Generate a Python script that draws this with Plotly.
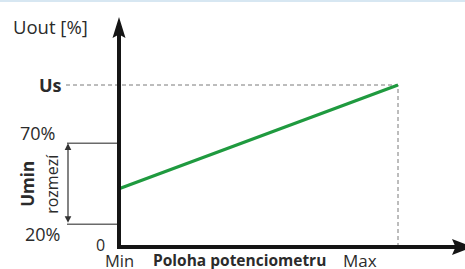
import plotly.graph_objects as go

# ---- data (schematic units: position 0..1, output level 0..100 where Us = 100)
pos_labels = ["Min", "Max"]
pos_values = [0, 1]
level_labels = ["0", "20%", "70%", "Us"]
level_values = [0, 14, 64, 100]
line_x = [0, 1]
line_y = [36, 100]
x_title = "Poloha potenciometru"
y_title = "Uout [%]"
band_title = "Umin"
band_sub = "rozmezí"

W, H = 465, 269
X0_PX, X1_PX = 119, 398      # pixel of Min / Max
Y0_PX, Y1_PX = 247, 85       # pixel of 0 / Us
sx = (X1_PX - X0_PX) / (pos_values[1] - pos_values[0])
sy = (Y0_PX - Y1_PX) / (level_values[3] - level_values[0])
xr = [pos_values[0] - X0_PX / sx, pos_values[0] + (W - X0_PX) / sx]
yr = [level_values[0] - (H - Y0_PX) / sy, level_values[0] + Y0_PX / sy]


def X(px):
    return xr[0] + px / sx


def Y(py):
    return yr[1] - py / sy


FONT = "Open Sans"
TXT = "#2b2b2b"
AX = "#151515"
GREEN = "#1f9a3f"
GRAY = "#7a7a7a"

xmin, xmax = pos_values
y0 = level_values[0]
us = level_values[3]

fig = go.Figure()

# dashed guides to Us / Max
fig.add_trace(go.Scatter(x=[X(66), xmax, xmax], y=[us, us, y0],
                         mode="lines", line=dict(color=GRAY, width=1, dash="4px,3px"),
                         hoverinfo="skip", showlegend=False))
# 20% / 70% guides
for lv in level_values[1:3]:
    fig.add_trace(go.Scatter(x=[X(67), xmin], y=[lv, lv], mode="lines",
                             line=dict(color="#6a6a6a", width=1.5),
                             hoverinfo="skip", showlegend=False))
# green characteristic
fig.add_trace(go.Scatter(x=line_x, y=line_y, mode="lines",
                         line=dict(color=GREEN, width=3.2),
                         hoverinfo="skip", showlegend=False))

shapes = []
# y axis shaft + head
ytip = Y(17)
shapes.append(dict(type="line", xref="x", yref="y", x0=xmin, x1=xmin,
                   y0=y0 - 2 / sy, y1=ytip - 16 / sy, line=dict(color=AX, width=4)))
shapes.append(dict(type="path", xref="x", yref="y", fillcolor=AX, line=dict(width=0),
                   path=(f"M{xmin},{ytip} L{xmin - 6.5 / sx},{ytip - 21 / sy} "
                         f"L{xmin},{ytip - 17.5 / sy} L{xmin + 6.5 / sx},{ytip - 21 / sy} Z")))
# x axis shaft + head
xtip = X(473)
shapes.append(dict(type="line", xref="x", yref="y", x0=xmin - 2 / sx, x1=xtip - 16 / sx,
                   y0=y0, y1=y0, line=dict(color=AX, width=4)))
shapes.append(dict(type="path", xref="x", yref="y", fillcolor=AX, line=dict(width=0),
                   path=(f"M{xtip},{y0} L{xtip - 21 / sx},{y0 + 8 / sy} "
                         f"L{xtip - 17.5 / sx},{y0} L{xtip - 21 / sx},{y0 - 8 / sy} Z")))
# top border
shapes.append(dict(type="line", xref="paper", yref="paper", x0=0, x1=1, y0=1, y1=1,
                   line=dict(color="#d7e7f2", width=4)))

ann = []
# double arrow for Umin range
bx = X(68)
ann.append(dict(x=bx, y=level_values[2], ax=bx, ay=level_values[1],
                xref="x", yref="y", axref="x", ayref="y", text="", showarrow=True,
                arrowhead=2, arrowside="end+start", arrowsize=1.1, arrowwidth=1.2,
                arrowcolor="#333"))


def label(text, x, y, xanchor="center", yanchor="middle", size=16, bold=False,
          xshift=0, yshift=0, angle=0):
    t = f"<b>{text}</b>" if bold else text
    ann.append(dict(x=x, y=y, xref="x", yref="y", text=t, showarrow=False,
                    xanchor=xanchor, yanchor=yanchor, xshift=xshift, yshift=yshift,
                    textangle=angle, borderpad=0,
                    font=dict(family=FONT, size=size, color=TXT)))


label(y_title, X(12), Y(26), xanchor="left", size=18.5)
label(level_labels[3], X(63), us, xanchor="right", size=18, bold=True)
label(level_labels[2], X(56), level_values[2], xanchor="right", yshift=10, size=18)
label(level_labels[1], X(61), level_values[1], xanchor="right", yshift=-10, size=18)
label(level_labels[0], X(106), y0, xanchor="right", yshift=2, size=16)
label(pos_labels[0], xmin, y0, yshift=-13, size=16.5)
label(pos_labels[1], X(360), y0, yshift=-13, size=17)
label(x_title, X(239), y0, yshift=-13, size=15.5, bold=True)
mid = (level_values[1] + level_values[2]) / 2
label(band_title, X(28), mid, size=17, bold=True, angle=-90)
label(band_sub, X(52), mid, size=16, angle=-90)

fig.update_layout(
    width=W, height=H, margin=dict(l=0, r=0, t=0, b=0, pad=0),
    paper_bgcolor="white", plot_bgcolor="white",
    xaxis=dict(range=xr, visible=False, fixedrange=True),
    yaxis=dict(range=yr, visible=False, fixedrange=True),
    annotations=ann, shapes=shapes,
)
fig.write_html("out.html", post_script="document.body.style.margin='0';",
               config={"displayModeBar": False})
